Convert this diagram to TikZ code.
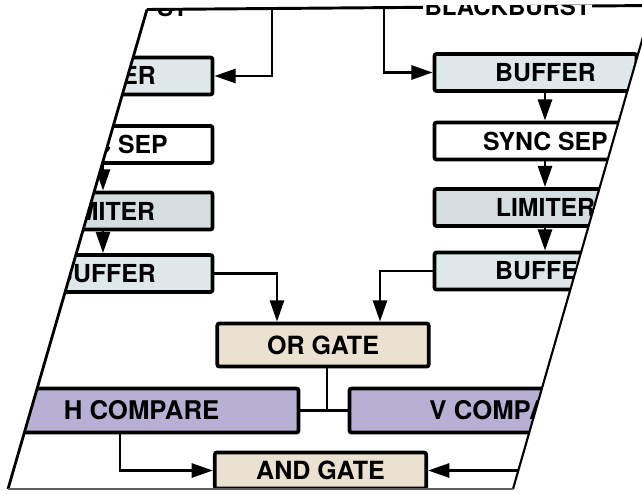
\documentclass[tikz,border=0pt]{standalone}
\usepackage{fontspec}
\setmainfont{TeX Gyre Heros}
\usetikzlibrary{arrows.meta}
\definecolor{bufcol}{RGB}{222,232,234}
\definecolor{limcol}{RGB}{212,221,224}
\definecolor{gatecol}{RGB}{234,225,208}
\definecolor{cmpcol}{RGB}{184,176,212}
\definecolor{edgegray}{RGB}{95,95,95}
\newcommand{\lsh}[1]{#1\hspace*{9pt}}
\newcommand{\rsh}[1]{\hspace*{15pt}#1}
\begin{document}
\begin{tikzpicture}[x=0.75pt,y=-0.75pt,
  blk/.style={draw=black, line width=2.8pt, rounded corners=1.5pt, inner sep=0pt},
  colbox/.style={blk, minimum width=151.5pt, minimum height=27.75pt,
    font=\fontsize{18.6}{21}\selectfont\bfseries},
  bufbox/.style={colbox, fill=bufcol},
  limbox/.style={colbox, fill=limcol},
  sepbox/.style={colbox, fill=white},
  gatebox/.style={blk, fill=gatecol, minimum width=158.5pt,
    font=\fontsize{18.8}{21}\selectfont\bfseries},
  cmpbox/.style={blk, fill=cmpcol, minimum width=235.5pt, minimum height=33pt,
    font=\fontsize{19.3}{22}\selectfont\bfseries},
  conn/.style={line width=2.2pt},
  arr/.style={conn, -{Triangle[length=16pt,width=10.5pt]}},
  topfont/.style={font=\fontsize{18}{21}\selectfont\bfseries, text=black},
]
\useasboundingbox (0,0) rectangle (642,493);
\fill[white] (0,0) rectangle (642,493);

% parallelogram corners
\coordinate (fTL) at (147,9.5);
\coordinate (fTR) at (652,5.5);
\coordinate (fBR) at (513,489);
\coordinate (fBL) at (8,489);

\begin{scope}
\clip (fTL) -- (fTR) -- (fBR) -- (fBL) -- cycle;

% left column
\node[bufbox] (lbuf1) at (111.5,76) {\lsh{BUFFER}};
\node[sepbox] (lsync) at (111.5,144.5) {\lsh{SYNC SEP}};
\node[limbox] (llim)  at (111.5,211) {\lsh{LIMITER}};
\node[bufbox] (lbuf2) at (111.5,273.5) {\lsh{BUFFER}};
% right column
\node[bufbox] (rbuf1) at (535.5,72.5) {\rsh{BUFFER}};
\node[sepbox] (rsync) at (535.5,141) {\rsh{SYNC SEP}};
\node[limbox] (rlim)  at (535.5,207.5) {\rsh{LIMITER}};
\node[bufbox] (rbuf2) at (535.5,271) {\rsh{BUFFER}};
% gates and comparators
\node[gatebox, minimum height=32.25pt] (org) at (323,345) {OR GATE};
\node[cmpbox] (hc) at (141.5,410.5) {H COMPARE};
\node[cmpbox] (vc) at (506.5,410.5) {V COMPARE};
\node[gatebox, minimum height=27pt] (andg) at (320.5,470.5) {AND GATE};

% helper coordinates
\coordinate (tl) at (272,8.5);
\coordinate (tr) at (384,7.6);
\coordinate (lc) at (103,0);
\coordinate (rc) at (545,0);
\coordinate (xl) at (277,0);
\coordinate (xr) at (380,0);
\coordinate (jx) at (327,0);
\coordinate (xh) at (120,0);
\coordinate (re) at (522,470.5);

% top inputs
\draw[arr] (tl) |- (lbuf1.east);
\draw[arr] (tr) |- (rbuf1.west);
% column chains
\draw[arr] (lbuf1.south -| lc) -- (lsync.north -| lc);
\draw[arr] (lsync.south -| lc) -- (llim.north -| lc);
\draw[arr] (llim.south -| lc) -- (lbuf2.north -| lc);
\draw[arr] (rbuf1.south -| rc) -- (rsync.north -| rc);
\draw[arr] (rsync.south -| rc) -- (rlim.north -| rc);
\draw[arr] (rlim.south -| rc) -- (rbuf2.north -| rc);
% to OR gate
\draw[arr] (lbuf2.east) -| (xl |- org.north);
\draw[arr] (rbuf2.west) -| (xr |- org.north);
% OR gate to comparators
\draw[conn] (org.south -| jx) -- (jx |- hc.east);
\draw[conn] (hc.east) -- (vc.west);
% to AND gate
\draw[arr] (hc.south -| xh) |- (andg.west);
\draw[arr] (re) -- (andg.east);
\end{scope}

% frame
\draw[line width=2.2pt] (fTL) -- (fTR);
\draw[line width=2.1pt] (fTL) -- (fBL);
\draw[line width=1.6pt] (fTR) -- (fBR);
\draw[line width=1.4pt, edgegray] (fBL) -- (fBR);

% cut-off texts at the top
\begin{scope}
\clip (0,10.5) rectangle (642,40);
\node[topfont, anchor=base west, inner sep=0pt] (toptextl) at (157,16) {ST};
\end{scope}
\begin{scope}
\clip (0,5) rectangle (642,40);
\node[topfont, anchor=base west, fill=white, inner sep=1pt] (toptextr) at (423,15.5) {BLACKBURST};
\end{scope}
\end{tikzpicture}
\end{document}
